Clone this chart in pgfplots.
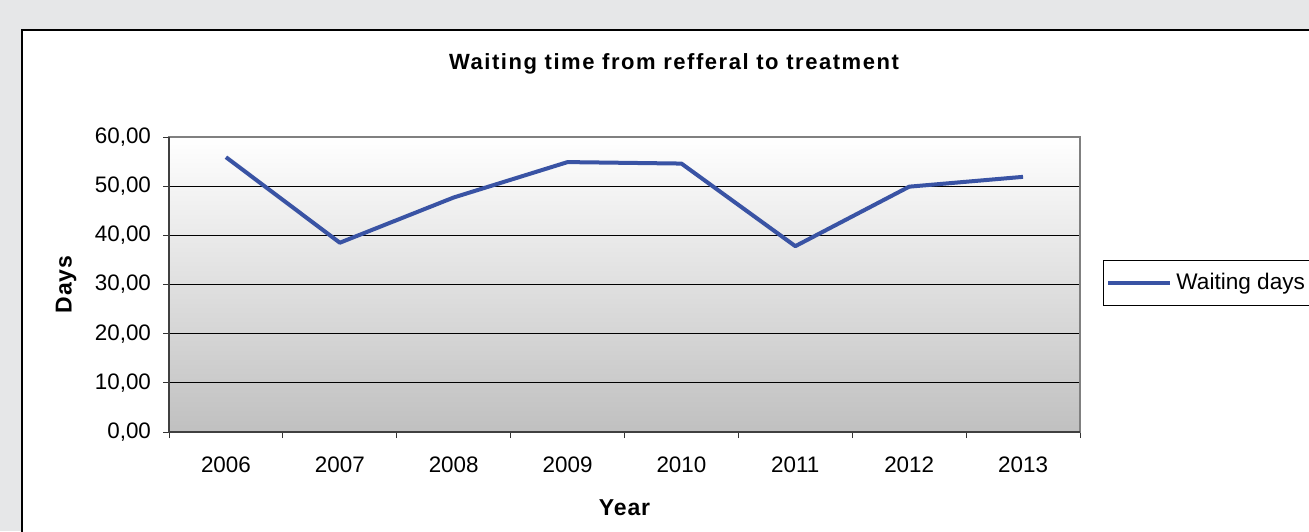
\documentclass[border=0pt]{standalone}
\usepackage{fontspec}
\setmainfont{Liberation Sans}
\usepackage{pgfplots}
\pgfplotsset{compat=1.18}
\definecolor{bgout}{RGB}{230,231,232}
\definecolor{lineblue}{RGB}{57,83,164}
\definecolor{shadebot}{RGB}{192,192,192}
\begin{document}
\begin{tikzpicture}[x=1pt,y=1pt]
\useasboundingbox (0,0) rectangle (654.5,265.5);
\clip (0,0) rectangle (654.5,265.5);
\fill[bgout] (0,0) rectangle (654.5,265.5);
\draw[line width=1pt, fill=white] (11,-20) rectangle (680,250.5);
\node[font={\fontsize{11}{13}\selectfont\bfseries\addfontfeature{LetterSpace=7}}] at (337,233.5) {Waiting time from refferal to treatment};
\begin{axis}[
  at={(84.5pt,49.5pt)}, anchor=south west,
  scale only axis, width=455.5pt, height=147.5pt,
  xmin=-0.5, xmax=7.5, ymin=0, ymax=60,
  xtick={0,...,7},
  xticklabels={2006,2007,2008,2009,2010,2011,2012,2013},
  major x tick style={draw=none},
  minor xtick={-0.5,0.5,...,7.5},
  ytick={0,10,...,60},
  xtick pos=bottom, ytick pos=left,
  tick align=outside,
  major tick length=3pt, minor tick length=3pt,
  tick style={black!80, line width=0.5pt},
  ymajorgrids, major grid style={black, line width=0.5pt},
  axis line style={draw=gray, line width=0.8pt},
  axis background/.style={top color=white, bottom color=shadebot},
  yticklabel style={xshift=-2.5pt, /pgf/number format/.cd, fixed, fixed zerofill, precision=2, use comma, assume math mode=true},
  ticklabel style={font=\fontsize{11.2}{13}\selectfont},
  xticklabel style={yshift=-6pt},
  xlabel={Year}, ylabel={Days},
  every axis x label/.style={at={(rel axis cs:0.5,0)}, yshift=-38pt, anchor=center, font=\fontsize{11.5}{13}\selectfont\bfseries\addfontfeature{LetterSpace=4}},
  every axis y label/.style={at={(rel axis cs:0,0.5)}, xshift=-51.5pt, rotate=90, anchor=center, font=\fontsize{11.5}{13}\selectfont\bfseries\addfontfeature{LetterSpace=4}},
  legend style={at={(1.0252,0.505)}, anchor=west, draw=black, line width=0.5pt, font=\fontsize{11.3}{13}\selectfont, inner xsep=1.5pt, inner ysep=4.5pt, row sep=0pt},
  legend image code/.code={\draw[#1, line width=2pt] (0pt,0pt) -- (31pt,0pt);},
  legend cell align=left,
  clip=false,
]
\addplot[lineblue, line width=2pt, line join=round] coordinates {
(0,55.9) (1,38.5) (2,47.7) (3,54.9) (4,54.6) (5,37.8) (6,49.9) (7,51.9)};
\addlegendentry{Waiting days}
\draw[black!75, line width=0.8pt] (rel axis cs:0,1) -- (rel axis cs:0,0) -- (rel axis cs:1,0);
\end{axis}
\end{tikzpicture}
\end{document}
